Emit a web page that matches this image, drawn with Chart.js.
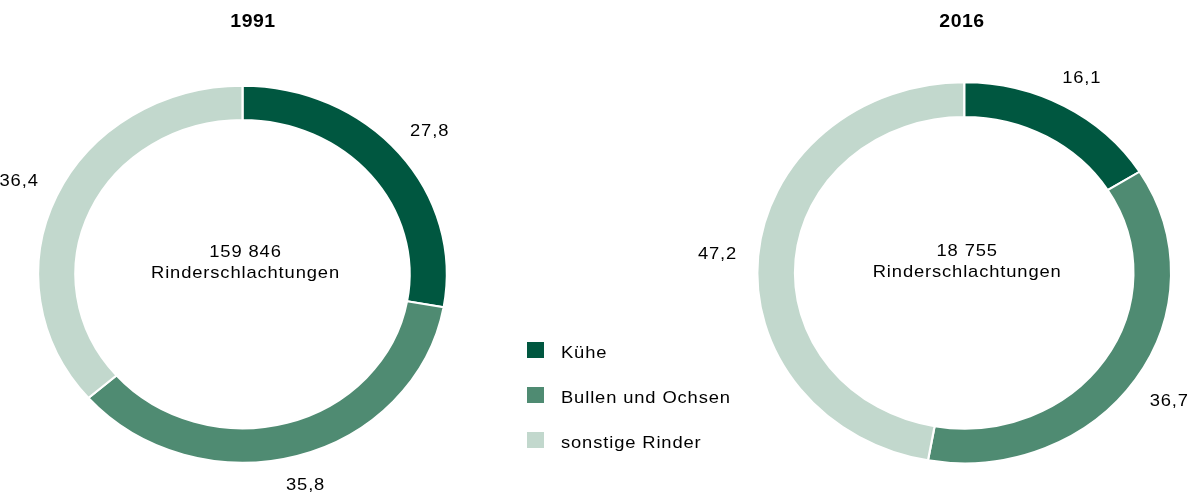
<!DOCTYPE html>
<html>
<head>
<meta charset="utf-8">
<script src="https://cdn.jsdelivr.net/npm/chart.js@4/dist/chart.umd.min.js"></script>
<style>
  html, body { margin: 0; padding: 0; background: #ffffff; }
  #wrap { position: relative; width: 1191px; height: 500px; overflow: hidden; background: #fff; }
  #wrap canvas { position: absolute; left: 0; top: 0; }
  .lg { position: absolute; left: 527px; height: 20px; font-family: "Liberation Sans", Arial, sans-serif;
        font-size: 17px; line-height: 20px; color: #000; white-space: nowrap; }
  .lg .sw { position: absolute; left: 0; top: -1px; width: 17px; height: 16px; }
  .lg .tx { position: absolute; left: 34px; top: 0; letter-spacing: 0.8px; transform: scaleX(1.08); transform-origin: 0 0; }
</style>
</head>
<body>
<div id="wrap">
  <canvas id="c1991" width="1191" height="500"></canvas>
  <canvas id="c2016" width="1191" height="500"></canvas>
  <div id="legend"></div>
</div>
<script>
// ---- data ----
const categories = ['Kühe', 'Bullen und Ochsen', 'sonstige Rinder'];
const years = ['1991', '2016'];
const values1991 = [27.8, 35.8, 36.4];
const values2016 = [16.1, 36.7, 47.2];
const totals = ['159 846', '18 755'];
const centerCaption = 'Rinderschlachtungen';
const colors = ['#005740', '#4F8B72', '#C2D8CD'];

// ---- styling ----
const FONT = '17px "Liberation Sans", Arial, sans-serif';
const FONT_BOLD = 'bold 18px "Liberation Sans", Arial, sans-serif';
const TEXT_SX = 1.08;   // horizontal stretch of the text
const CAP = 12;         // cap height of the font in px
const GAP = 19;         // distance of value labels from the ring

function fmt(v) { return v.toFixed(1).replace('.', ','); }

function drawText(ctx, txt, x, y) {
  ctx.save();
  ctx.translate(x, y);
  ctx.scale(TEXT_SX, 1);
  ctx.fillText(txt, 0, 0);
  ctx.restore();
}

const ringPlugin = {
  id: 'ringDecor',
  beforeDatasetsDraw(chart, args, opts) {
    const arc = chart.getDatasetMeta(0).data[0];
    const ctx = chart.ctx;
    ctx.save();
    ctx.translate(arc.x, arc.y);
    ctx.scale(opts.sx, 1);
    ctx.translate(-arc.x, -arc.y);
  },
  afterDatasetsDraw(chart, args, opts) {
    const ctx = chart.ctx;
    ctx.restore();
    const meta = chart.getDatasetMeta(0);
    const ds = chart.data.datasets[0];
    ctx.save();
    ctx.font = FONT;
    ctx.letterSpacing = '0.8px';
    ctx.fillStyle = '#000';
    ctx.textAlign = 'center';
    ctx.textBaseline = 'alphabetic';
    meta.data.forEach((arc, i) => {
      const p = arc.getProps(['x', 'y', 'startAngle', 'endAngle', 'outerRadius']);
      const mid = (p.startAngle + p.endAngle) / 2;
      const c = Math.cos(mid), s = Math.sin(mid);
      const txt = fmt(ds.data[i]);
      const w = ctx.measureText(txt).width * TEXT_SX;
      const R = p.outerRadius + GAP + Math.abs(c) * w / 2 / opts.sx + Math.abs(s) * CAP / 2;
      drawText(ctx, txt, p.x + opts.sx * R * c, p.y + R * s + CAP / 2);
    });
    // centre text
    const a0 = meta.data[0];
    drawText(ctx, opts.total, a0.x + 3, a0.y - 17);
    drawText(ctx, centerCaption, a0.x + 3, a0.y + 4);
    // title
    ctx.font = FONT_BOLD;
    ctx.letterSpacing = '0.5px';
    drawText(ctx, opts.title, opts.titleX, 27);
    ctx.restore();
  }
};

function makeChart(id, values, title, total, cx, cy, r, sx, titleX) {
  const hw = 240 > cx ? cx : Math.min(240, 1191 - cx) - 1;
  const hh = 220;
  new Chart(document.getElementById(id), {
    type: 'doughnut',
    data: {
      labels: categories,
      datasets: [{
        data: values,
        backgroundColor: colors,
        borderColor: '#ffffff',
        borderWidth: 2,
        hoverOffset: 0
      }]
    },
    options: {
      responsive: false,
      animation: false,
      events: [],
      radius: r,
      cutout: '81.8%',
      layout: { padding: { left: cx - hw, right: 1191 - (cx + hw), top: cy - hh, bottom: 500 - (cy + hh) } },
      plugins: {
        legend: { display: false },
        tooltip: { enabled: false },
        ringDecor: { sx: sx, title: title, total: total, titleX: titleX }
      }
    },
    plugins: [ringPlugin]
  });
}

makeChart('c1991', values1991, years[0], totals[0], 242.5, 274.2, 188.5, 1.084, 253);
makeChart('c2016', values2016, years[1], totals[1], 964.2, 272.8, 190.5, 1.086, 962);

// ---- legend ----
const legend = document.getElementById('legend');
categories.forEach((name, i) => {
  const row = document.createElement('div');
  row.className = 'lg';
  row.style.top = (343 + i * 44.8) + 'px';
  const sw = document.createElement('div');
  sw.className = 'sw';
  sw.style.background = colors[i];
  const tx = document.createElement('div');
  tx.className = 'tx';
  tx.textContent = name;
  row.appendChild(sw);
  row.appendChild(tx);
  legend.appendChild(row);
});
</script>
</body>
</html>
